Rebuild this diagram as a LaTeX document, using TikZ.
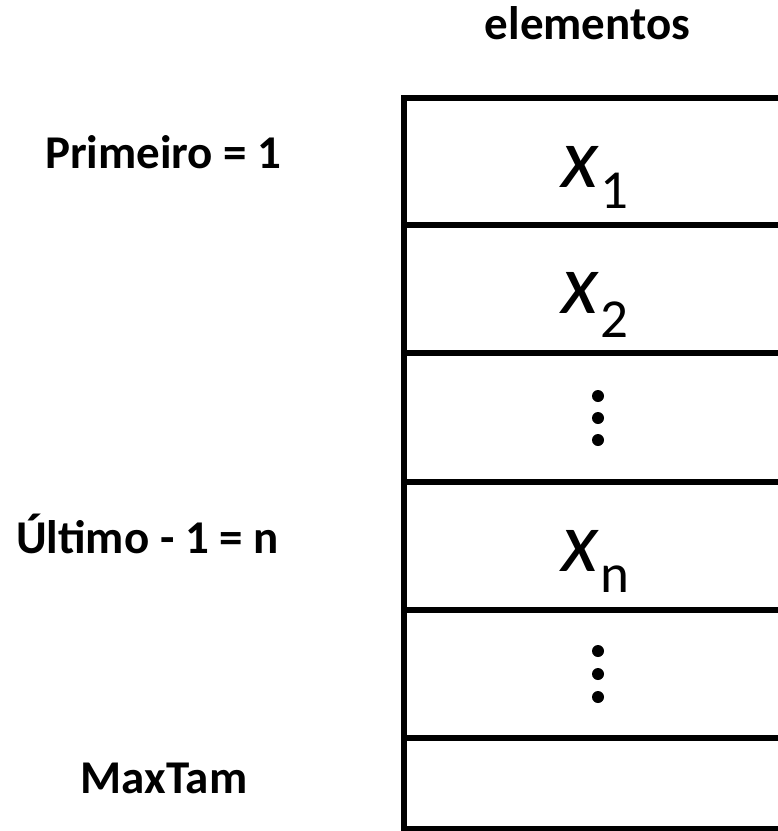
\documentclass[tikz,border=0pt]{standalone}
\usepackage{fontspec}
\setmainfont{Carlito}
\begin{document}
\begin{tikzpicture}[x=1pt,y=-1pt,
  lbl/.style={font=\fontsize{47}{47}\selectfont\bfseries, anchor=base, inner sep=0pt},
  elem/.style={font=\fontsize{86}{86}\selectfont, anchor=base west, inner sep=0pt},
  gridline/.style={line width=6pt, black},
  vdot/.style={black}]
\useasboundingbox (0,0) rectangle (778,831);
\clip (0,0) rectangle (778,831);
% table
\draw[gridline] (830,98) -- (404,98) -- (404,829) -- (830,829);
\foreach \yy/\nm in {225/s1,353/s2,482/s3,610/s4,738/s5}
  \draw[gridline] (404,\yy) coordinate (\nm) -- (830,\yy);
% header
\node[lbl] (head) at (587.5,39) {elementos};
% left labels
\node[lbl] (prim) at (163.5,168) {Primeiro = 1};
\node[lbl] (ult) at (147.5,553) {Último - 1 = n};
\node[lbl] (maxt) at (164,793) {MaxTam};
% elements
\node[elem] (x1) at (561,187) {\itshape x\kern2pt\raisebox{-21pt}{\fontsize{55}{55}\selectfont\upshape 1}};
\node[elem] (x2) at (561,313) {\itshape x\kern2pt\raisebox{-24pt}{\fontsize{55}{55}\selectfont\upshape 2}};
\node[elem] (xn) at (561,571) {\itshape x\kern2pt\raisebox{-21pt}{\fontsize{55}{55}\selectfont\upshape n}};
% vertical dots
\foreach \yy in {396,418,440} \fill[vdot] (598,\yy) circle (6);
\foreach \yy in {651,674,697} \fill[vdot] (598,\yy) circle (6);
\end{tikzpicture}
\end{document}
